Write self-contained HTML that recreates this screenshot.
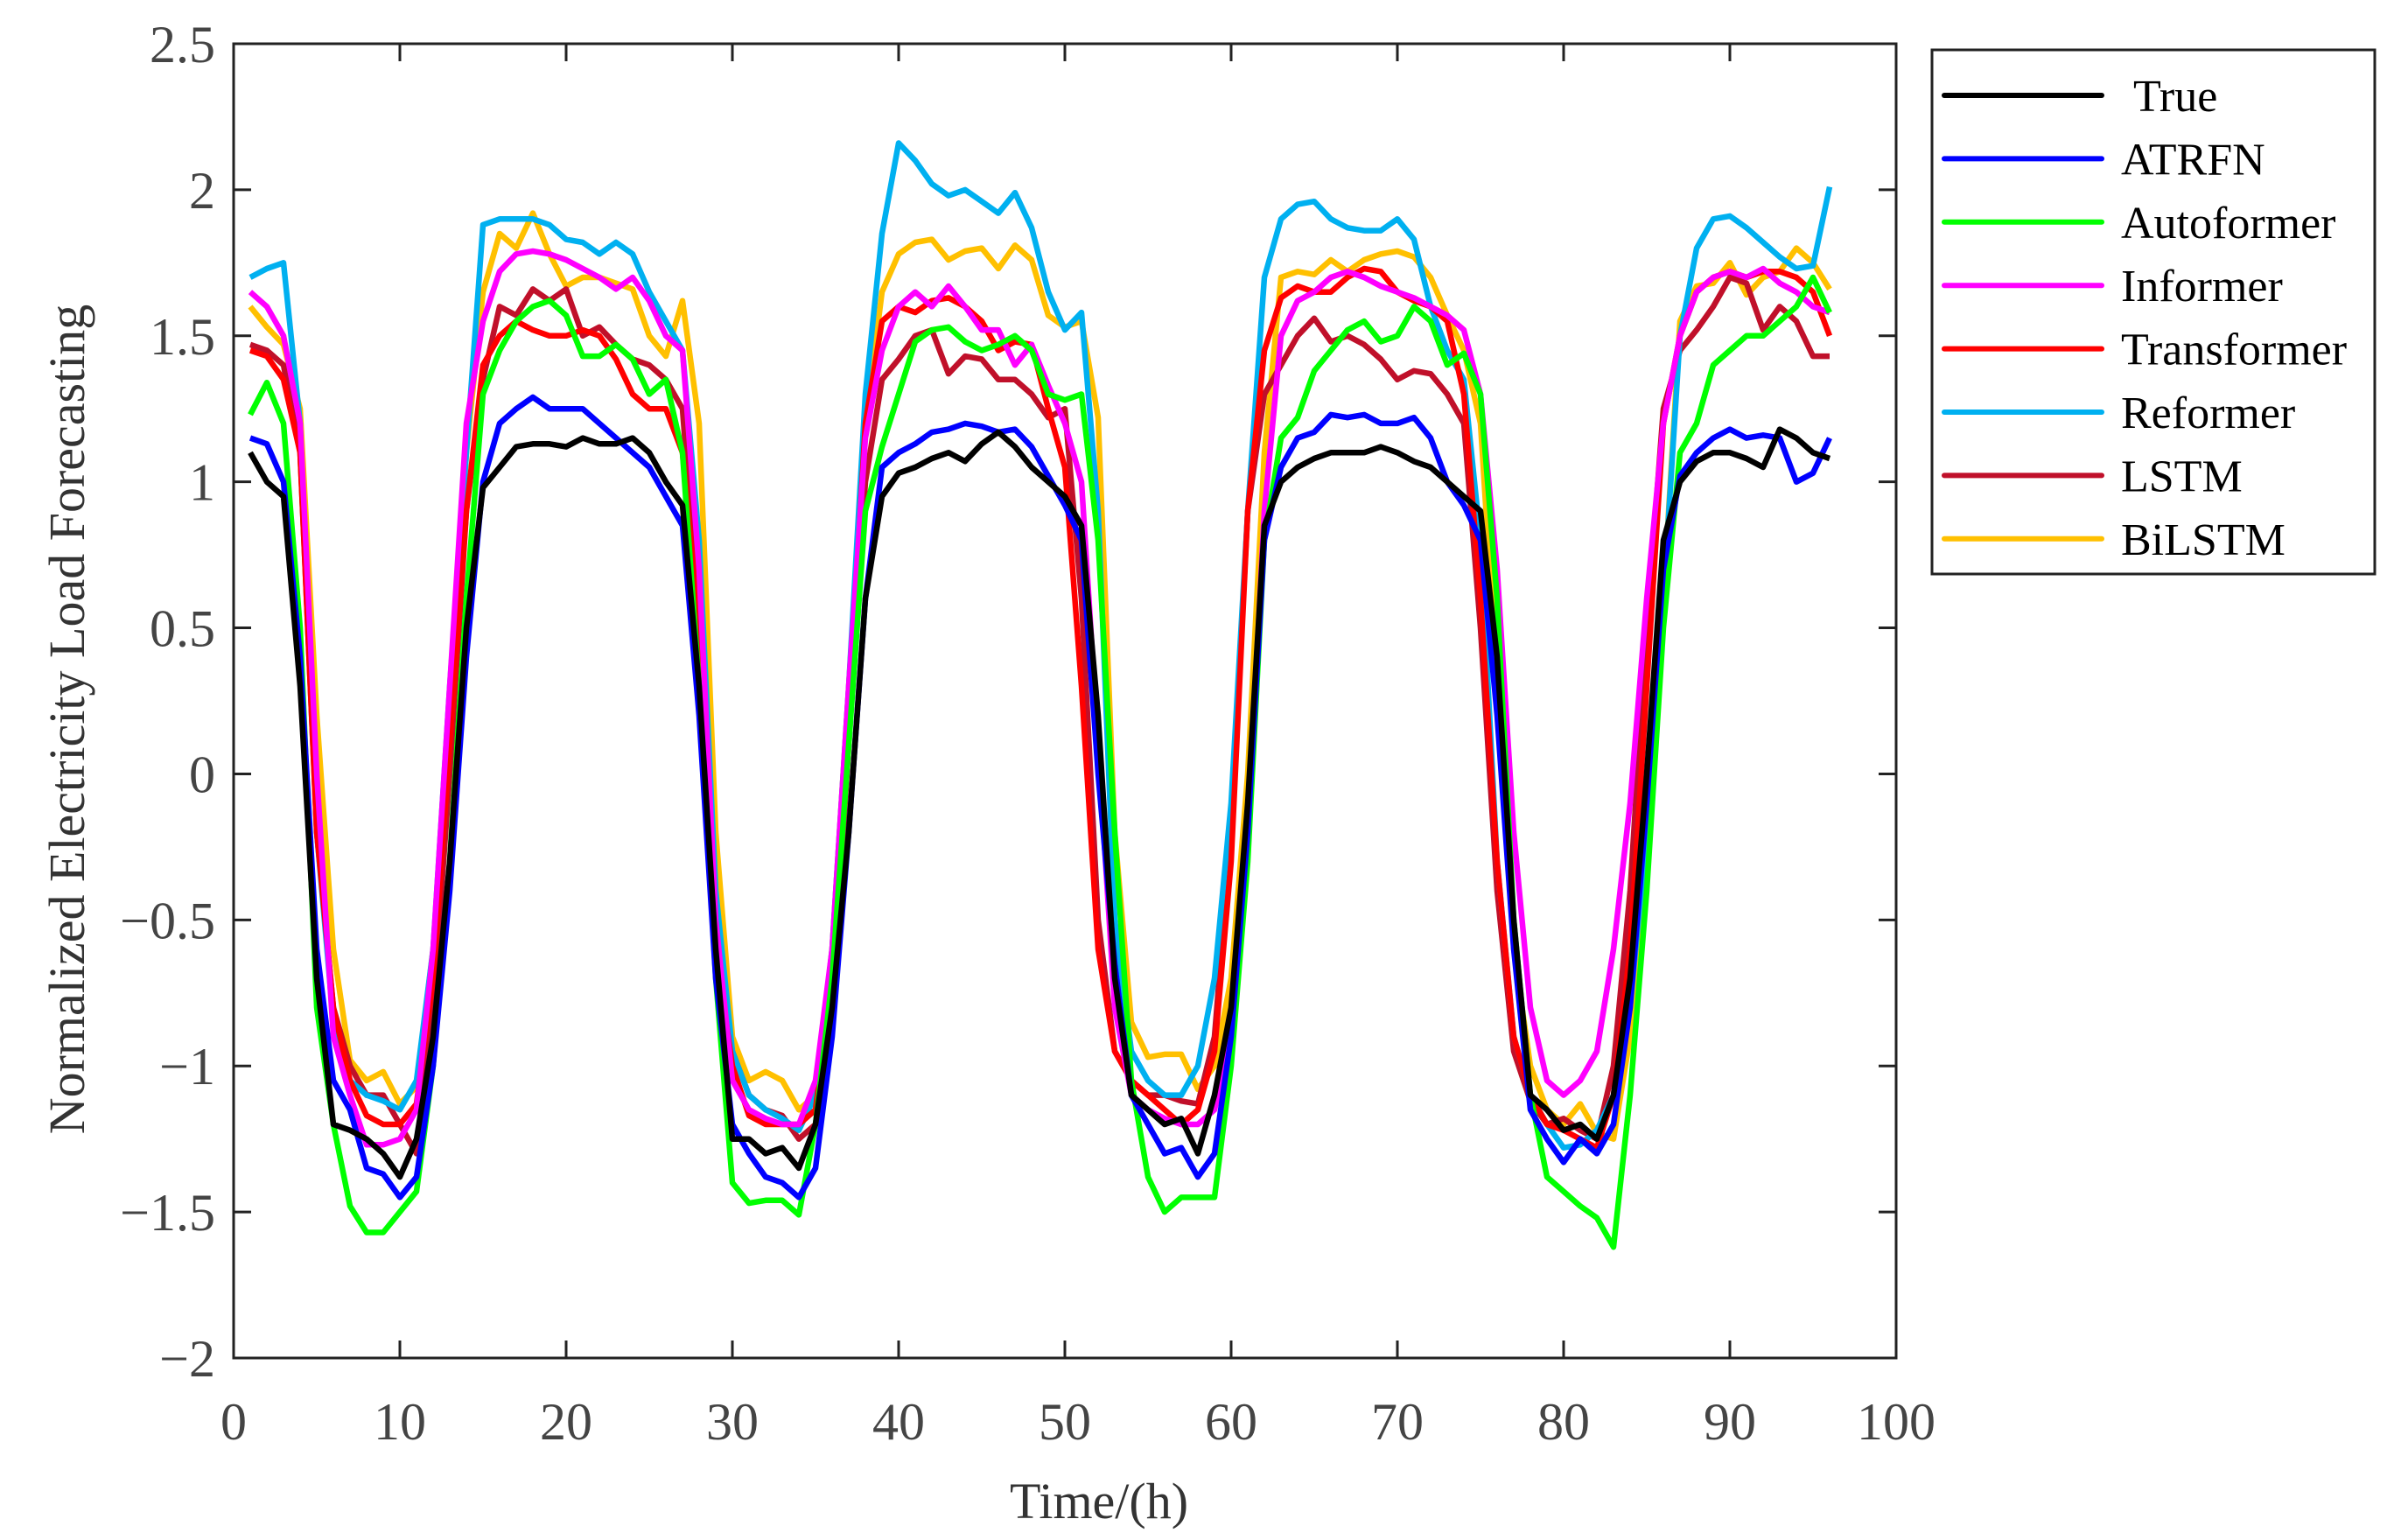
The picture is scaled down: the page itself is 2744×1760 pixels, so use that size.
<!DOCTYPE html>
<html><head><meta charset="utf-8"><style>
html,body{margin:0;padding:0;background:#fff;}
svg{display:block;font-family:"Liberation Serif",serif;}
</style></head><body>
<svg id="chart" width="2744" height="1760" viewBox="0 0 2744 1760">
<rect x="0" y="0" width="2744" height="1760" fill="#fff"/>
<g id="series"></g>
<g id="axes"></g>
<text x="1256" y="1735" font-size="58" fill="#333" text-anchor="middle">Time/(h)</text>
<text x="0" y="0" font-size="58" fill="#333" text-anchor="middle" transform="translate(96,822) rotate(-90)">Normalized Electricity Load Forecasting</text>
<g id="legend"></g>
</svg>
<script>
const xTicks=[0,10,20,30,40,50,60,70,80,90,100];
const yTicks=[2.5,2,1.5,1,0.5,0,-0.5,-1,-1.5,-2];
const yTickLabels=["2.5","2","1.5","1","0.5","0","\u22120.5","\u22121","\u22121.5","\u22122"];
const seriesNames=["True","ATRFN","Autoformer","Informer","Transformer","Reformer","LSTM","BiLSTM"];
const seriesColors=["#000000","#0000ff","#00ff00","#ff00ff","#ff0000","#00b0f0","#c0102a","#ffc000"];
const trueVals=[1.1,1.0,0.95,0.3,-0.7,-1.2,-1.22,-1.25,-1.3,-1.38,-1.25,-0.9,-0.3,0.5,0.98,1.05,1.12,1.13,1.13,1.12,1.15,1.13,1.13,1.15,1.1,1.0,0.92,0.3,-0.6,-1.25,-1.25,-1.3,-1.28,-1.35,-1.2,-0.8,-0.2,0.6,0.95,1.03,1.05,1.08,1.1,1.07,1.13,1.17,1.12,1.05,1.0,0.95,0.85,0.2,-0.7,-1.1,-1.15,-1.2,-1.18,-1.3,-1.1,-0.8,-0.1,0.85,1.0,1.05,1.08,1.1,1.1,1.1,1.12,1.1,1.07,1.05,1.0,0.95,0.9,0.4,-0.5,-1.1,-1.15,-1.22,-1.2,-1.25,-1.1,-0.7,0.0,0.8,1.0,1.07,1.1,1.1,1.08,1.05,1.18,1.15,1.1,1.08];
const atrfnVals=[1.15,1.13,1.0,0.4,-0.6,-1.05,-1.15,-1.35,-1.37,-1.45,-1.38,-1.0,-0.4,0.4,1.0,1.2,1.25,1.29,1.25,1.25,1.25,1.2,1.15,1.1,1.05,0.95,0.85,0.2,-0.7,-1.2,-1.3,-1.38,-1.4,-1.45,-1.35,-0.9,-0.2,0.6,1.05,1.1,1.13,1.17,1.18,1.2,1.19,1.17,1.18,1.12,1.02,0.92,0.8,0.0,-0.65,-1.1,-1.2,-1.3,-1.28,-1.38,-1.3,-0.9,-0.2,0.8,1.05,1.15,1.17,1.23,1.22,1.23,1.2,1.2,1.22,1.15,1.0,0.92,0.8,0.2,-0.6,-1.15,-1.25,-1.33,-1.25,-1.3,-1.2,-0.8,-0.1,0.7,1.02,1.1,1.15,1.18,1.15,1.16,1.15,1.0,1.03,1.15];
const autoformerVals=[1.23,1.34,1.2,0.5,-0.8,-1.2,-1.48,-1.57,-1.57,-1.5,-1.43,-1.0,-0.3,0.6,1.3,1.45,1.55,1.6,1.62,1.57,1.43,1.43,1.47,1.42,1.3,1.35,1.1,0.3,-0.7,-1.4,-1.47,-1.46,-1.46,-1.51,-1.2,-0.7,0.1,0.9,1.12,1.3,1.48,1.52,1.53,1.48,1.45,1.47,1.5,1.45,1.3,1.28,1.3,0.8,-0.2,-1.05,-1.38,-1.5,-1.45,-1.45,-1.45,-1.0,-0.3,0.8,1.15,1.22,1.38,1.45,1.52,1.55,1.48,1.5,1.6,1.55,1.4,1.44,1.3,0.6,-0.5,-1.1,-1.38,-1.43,-1.48,-1.52,-1.62,-1.1,-0.4,0.5,1.1,1.2,1.4,1.45,1.5,1.5,1.55,1.6,1.7,1.58];
const informerVals=[1.65,1.6,1.5,1.2,0.0,-0.9,-1.1,-1.27,-1.27,-1.25,-1.15,-0.6,0.3,1.2,1.55,1.72,1.78,1.79,1.78,1.76,1.73,1.7,1.66,1.7,1.62,1.5,1.45,0.7,-0.5,-1.05,-1.15,-1.18,-1.2,-1.2,-1.05,-0.6,0.3,1.15,1.45,1.6,1.65,1.6,1.67,1.6,1.52,1.52,1.4,1.47,1.33,1.2,1.0,0.1,-0.8,-1.1,-1.15,-1.18,-1.2,-1.2,-1.15,-0.9,-0.2,0.9,1.5,1.62,1.65,1.7,1.72,1.7,1.67,1.65,1.63,1.6,1.57,1.52,1.3,0.7,-0.2,-0.8,-1.05,-1.1,-1.05,-0.95,-0.6,-0.1,0.6,1.2,1.5,1.65,1.7,1.72,1.7,1.73,1.68,1.65,1.6,1.58];
const transformerVals=[1.45,1.43,1.35,1.1,-0.2,-0.8,-1.05,-1.17,-1.2,-1.2,-1.13,-0.7,0.1,0.9,1.4,1.5,1.55,1.52,1.5,1.5,1.52,1.5,1.42,1.3,1.25,1.25,1.1,0.5,-0.6,-1.0,-1.17,-1.2,-1.2,-1.2,-1.15,-0.7,0.2,1.2,1.55,1.6,1.58,1.62,1.63,1.6,1.55,1.45,1.48,1.47,1.25,1.05,0.3,-0.6,-0.95,-1.05,-1.1,-1.15,-1.2,-1.15,-0.95,-0.3,0.9,1.45,1.63,1.67,1.65,1.65,1.7,1.73,1.72,1.65,1.62,1.6,1.55,1.3,0.6,-0.3,-0.9,-1.1,-1.2,-1.22,-1.25,-1.28,-1.1,-0.6,0.3,1.2,1.5,1.65,1.7,1.72,1.7,1.72,1.72,1.7,1.65,1.5];
const reformerVals=[1.7,1.73,1.75,1.2,-0.2,-0.85,-1.05,-1.1,-1.12,-1.15,-1.05,-0.6,0.3,1.1,1.88,1.9,1.9,1.9,1.88,1.83,1.82,1.78,1.82,1.78,1.65,1.55,1.45,0.8,-0.4,-0.95,-1.1,-1.15,-1.18,-1.22,-1.1,-0.6,0.3,1.3,1.85,2.16,2.1,2.02,1.98,2.0,1.96,1.92,1.99,1.87,1.65,1.52,1.58,0.9,-0.5,-0.95,-1.05,-1.1,-1.1,-1.0,-0.7,-0.1,0.9,1.7,1.9,1.95,1.96,1.9,1.87,1.86,1.86,1.9,1.83,1.6,1.45,1.35,0.8,-0.3,-0.9,-1.1,-1.2,-1.28,-1.27,-1.22,-1.1,-0.8,-0.2,0.6,1.5,1.8,1.9,1.91,1.87,1.82,1.77,1.73,1.74,2.01];
const lstmVals=[1.47,1.45,1.4,1.1,-0.2,-0.8,-1.0,-1.1,-1.1,-1.2,-1.3,-0.8,0.0,0.9,1.35,1.6,1.57,1.66,1.62,1.66,1.5,1.53,1.47,1.42,1.4,1.35,1.25,0.5,-0.6,-0.95,-1.1,-1.15,-1.17,-1.25,-1.2,-0.8,0.1,1.0,1.35,1.42,1.5,1.52,1.37,1.43,1.42,1.35,1.35,1.3,1.22,1.25,0.6,-0.5,-0.95,-1.05,-1.1,-1.1,-1.12,-1.13,-0.9,-0.2,0.9,1.3,1.4,1.5,1.56,1.48,1.5,1.47,1.42,1.35,1.38,1.37,1.3,1.2,0.5,-0.4,-0.95,-1.12,-1.2,-1.18,-1.22,-1.25,-1.0,-0.4,0.5,1.25,1.45,1.52,1.6,1.7,1.68,1.52,1.6,1.55,1.43,1.43];
const bilstmVals=[1.6,1.53,1.47,1.25,0.2,-0.6,-0.98,-1.05,-1.02,-1.13,-1.07,-0.6,0.2,1.1,1.65,1.85,1.8,1.92,1.78,1.67,1.7,1.7,1.68,1.66,1.5,1.43,1.62,1.2,-0.2,-0.9,-1.05,-1.02,-1.05,-1.15,-1.1,-0.6,0.3,1.2,1.65,1.78,1.82,1.83,1.76,1.79,1.8,1.73,1.81,1.76,1.57,1.53,1.55,1.22,-0.2,-0.85,-0.97,-0.96,-0.96,-1.08,-1.0,-0.7,0.0,1.1,1.7,1.72,1.71,1.76,1.72,1.76,1.78,1.79,1.77,1.7,1.57,1.45,1.2,0.3,-0.6,-1.0,-1.15,-1.2,-1.13,-1.23,-1.25,-0.9,-0.2,0.6,1.55,1.67,1.68,1.75,1.64,1.7,1.72,1.8,1.75,1.66];
const allSeries=[trueVals,atrfnVals,autoformerVals,informerVals,transformerVals,reformerVals,lstmVals,bilstmVals];

const L=267,R=2167,T=50,B=1552;
const xMin=0,xMax=100,yMin=-2,yMax=2.5;
function xS(v){return L+(v-xMin)/(xMax-xMin)*(R-L);}
function yS(v){return T+(yMax-v)/(yMax-yMin)*(B-T);}
const NS="http://www.w3.org/2000/svg";
function mk(tag,attrs,parent){const e=document.createElementNS(NS,tag);for(const k in attrs)e.setAttribute(k,attrs[k]);parent.appendChild(e);return e;}

const sg=document.getElementById('series');
const order=[7,6,5,4,3,2,1,0];
order.forEach(function(si){
  const vals=allSeries[si];
  const pts=vals.map(function(v,i){return xS(i+1).toFixed(1)+','+yS(v).toFixed(1);}).join(' ');
  const pl=mk('polyline',{points:pts,fill:'none',stroke:seriesColors[si],'stroke-width':6.5,'stroke-linejoin':'round'},sg);
  
  
});

const ax=document.getElementById('axes');
const frame=mk('rect',{x:L,y:T,width:R-L,height:B-T,fill:'none',stroke:'#222','stroke-width':3},ax);


xTicks.forEach(function(t){
  const x=xS(t);
  const tb=mk('line',{x1:x,y1:B,x2:x,y2:B-20,stroke:'#222','stroke-width':3},ax);
  
  
  const tt=mk('line',{x1:x,y1:T,x2:x,y2:T+20,stroke:'#222','stroke-width':3},ax);
  
  
  const lb=mk('text',{x:x,y:1645,'font-size':60,fill:'#444','text-anchor':'middle'},ax);
  lb.textContent=String(t);
  
  
});
yTicks.forEach(function(t,i){
  const y=yS(t);
  const tl=mk('line',{x1:L,y1:y,x2:L+20,y2:y,stroke:'#222','stroke-width':3},ax);
  
  
  const tr=mk('line',{x1:R,y1:y,x2:R-20,y2:y,stroke:'#222','stroke-width':3},ax);
  
  
  const lb=mk('text',{x:246,y:y+21,'font-size':60,fill:'#444','text-anchor':'end'},ax);
  lb.textContent=yTickLabels[i];
  
  
});

const lg=document.getElementById('legend');
const box=mk('rect',{x:2208,y:57,width:506,height:599,fill:'#fff',stroke:'#222','stroke-width':3},lg);


seriesNames.forEach(function(n,i){
  const y=109+i*72.4;
  const ln=mk('line',{x1:2222,y1:y,x2:2402,y2:y,stroke:seriesColors[i],'stroke-width':6,'stroke-linecap':'round'},lg);
  
  
  const tx=mk('text',{x:(i===0?2438:2424),y:y+18,'font-size':52,fill:'#000'},lg);
  tx.textContent=n;
  
  
});
</script>
</body></html>
